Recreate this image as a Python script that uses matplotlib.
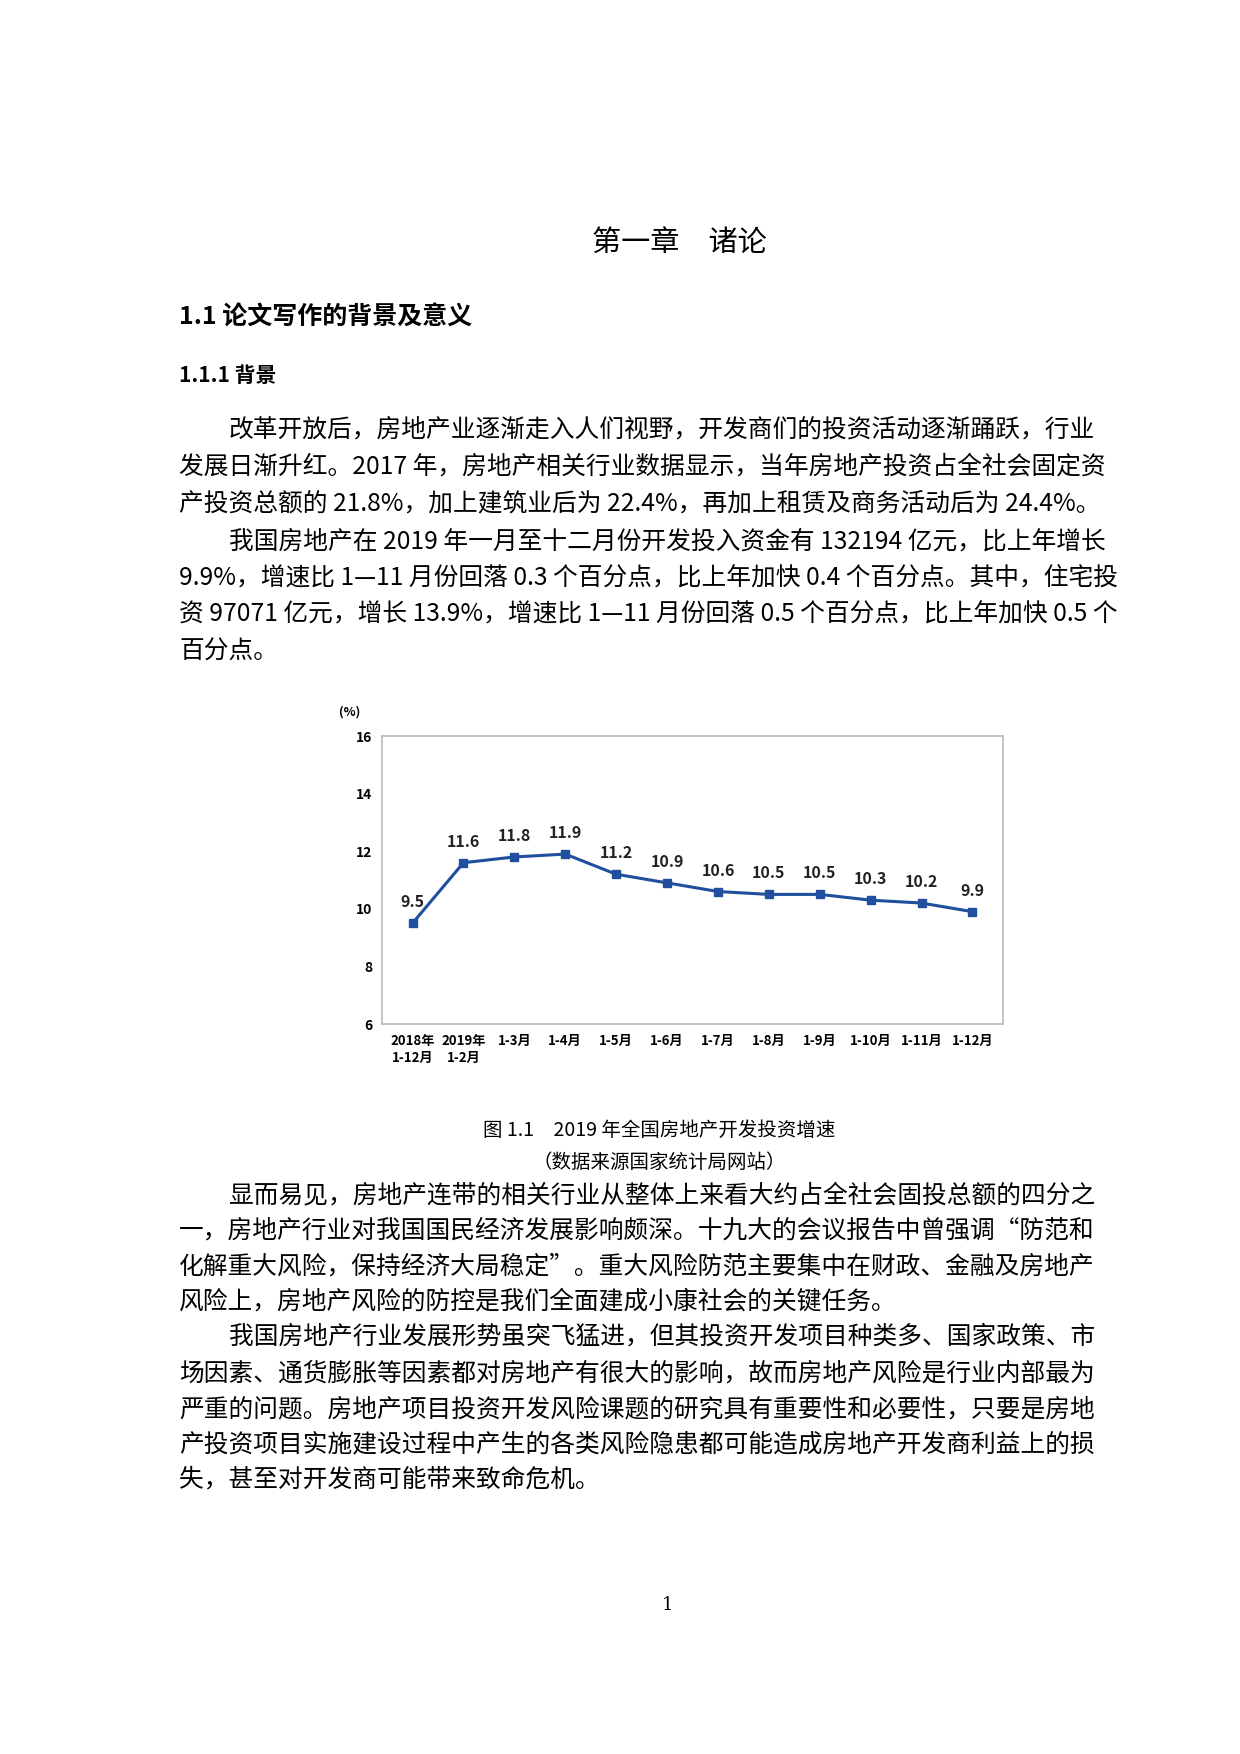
import matplotlib
matplotlib.use("Agg")
import matplotlib.pyplot as plt

plt.rcParams['font.family'] = ['Noto Sans CJK SC', 'DejaVu Sans']

# chart data
months = ["2018年\n1-12月", "2019年\n1-2月", "1-3月", "1-4月", "1-5月", "1-6月",
          "1-7月", "1-8月", "1-9月", "1-10月", "1-11月", "1-12月"]
growth = [9.5, 11.6, 11.8, 11.9, 11.2, 10.9, 10.6, 10.5, 10.5, 10.3, 10.2, 9.9]
yticks = [6, 8, 10, 12, 14, 16]

para1 = ["改革开放后，房地产业逐渐走入人们视野，开发商们的投资活动逐渐踊跃，行业",
         "发展日渐升红。2017 年，房地产相关行业数据显示，当年房地产投资占全社会固定资",
         "产投资总额的 21.8%，加上建筑业后为 22.4%，再加上租赁及商务活动后为 24.4%。",
         "我国房地产在 2019 年一月至十二月份开发投入资金有 132194 亿元，比上年增长",
         "9.9%，增速比 1—11 月份回落 0.3 个百分点，比上年加快 0.4 个百分点。其中，住宅投",
         "资 97071 亿元，增长 13.9%，增速比 1—11 月份回落 0.5 个百分点，比上年加快 0.5 个",
         "百分点。"]
indent1 = [True, False, False, True, False, False, False]
para2 = ["显而易见，房地产连带的相关行业从整体上来看大约占全社会固投总额的四分之",
         "一，房地产行业对我国国民经济发展影响颇深。十九大的会议报告中曾强调“防范和",
         "化解重大风险，保持经济大局稳定”。重大风险防范主要集中在财政、金融及房地产",
         "风险上，房地产风险的防控是我们全面建成小康社会的关键任务。",
         "我国房地产行业发展形势虽突飞猛进，但其投资开发项目种类多、国家政策、市",
         "场因素、通货膨胀等因素都对房地产有很大的影响，故而房地产风险是行业内部最为",
         "严重的问题。房地产项目投资开发风险课题的研究具有重要性和必要性，只要是房地",
         "产投资项目实施建设过程中产生的各类风险隐患都可能造成房地产开发商利益上的损",
         "失，甚至对开发商可能带来致命危机。"]
indent2 = [True, False, False, False, True, False, False, False, False]

W, H = 1240, 1754
fig = plt.figure(figsize=(W / 100, H / 100), dpi=100)


def put(x, y, s, size=17.8, **kw):
    fig.text(x / W, 1 - y / H, s, fontsize=size, va='center', **kw)


put(679, 243, "第一章　诸论", size=21, ha='center')
put(179, 318, "1.1 论文写作的背景及意义", size=18, weight='bold')
put(179, 375, "1.1.1 背景", size=15, weight='bold')

ys1 = [430, 467, 503, 542, 579, 615, 652]
for s, y, ind in zip(para1, ys1, indent1):
    put(179 + (50 if ind else 0), y, s)

ys2 = [1195, 1231, 1267, 1301, 1337, 1373, 1409, 1444, 1480]
for s, y, ind in zip(para2, ys2, indent2):
    put(179 + (50 if ind else 0), y, s)

put(659, 1130, "图 1.1　2019 年全国房地产开发投资增速", size=14, ha='center')
put(659, 1162, "（数据来源国家统计局网站）", size=14, ha='center')
put(667, 1605, "1", size=13, ha='center', family='DejaVu Serif')

# chart
ax = fig.add_axes([382 / W, 1 - 1024 / H, (1003 - 382) / W, (1024 - 736) / H])
x = list(range(len(growth)))
ax.plot(x, growth, color='#1f4f9e', lw=2.2, marker='s', ms=6)
for xi, v in zip(x, growth):
    ax.text(xi, v + 0.45, f"{v}", ha='center', va='bottom', fontsize=11.5,
            weight='bold', color='#222222')
ax.set_ylim(6, 16)
ax.set_xlim(-0.6, len(growth) - 0.4)
ax.set_yticks(yticks)
ax.set_yticklabels([str(t) for t in yticks], fontsize=10, weight='bold')
ax.set_xticks(x)
ax.set_xticklabels(months, fontsize=9.5, weight='bold', linespacing=1.3)
ax.tick_params(length=0, pad=7)
for sp in ax.spines.values():
    sp.set_color('#bbbbbb')
    sp.set_linewidth(1.2)
ax.text(-0.07, 1.07, "(%)", transform=ax.transAxes, fontsize=9, weight='bold')

fig.savefig("out.png", dpi=100)
